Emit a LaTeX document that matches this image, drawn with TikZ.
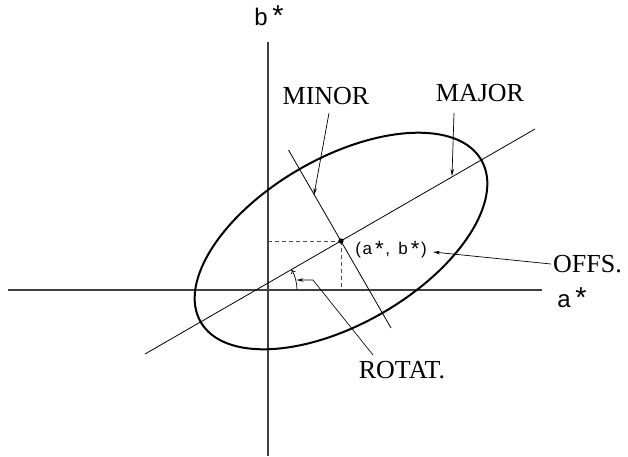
\documentclass[tikz,border=0pt]{standalone}
\usepackage{graphicx}
\usepackage{fontspec}
\setmainfont{Liberation Serif}
\newfontfamily\axfont[LetterSpace=20]{Liberation Sans}
\newcommand{\myast}{\hspace{0.18em}\raisebox{-0.12em}{\scalebox{1.3}{*}}\hspace{0.1em}}
\newcommand{\axast}{\hspace{0.2em}\raisebox{-0.04em}{\scalebox{1.2}{*}}}
\usetikzlibrary{arrows.meta}
\tikzset{
  axis/.style={draw=black!75, line width=1.1pt},
  thin line/.style={draw=black, line width=0.8pt},
  leader/.style={draw=black, line width=0.7pt, -{Stealth[length=7pt,width=3.5pt]}},
  guide/.style={draw=black!70, line width=0.8pt, dash pattern=on 4pt off 3pt},
  serif label/.style={font=\fontsize{26}{28}\selectfont, inner sep=0pt},
  sans label/.style={font=\axfont\fontsize{24}{26}\selectfont, inner sep=0pt},
  small sans/.style={font=\axfont\fontsize{17}{19}\selectfont, inner sep=0pt},
}
\begin{document}
\begin{tikzpicture}[x=1pt,y=-1pt]
\useasboundingbox (0,0) rectangle (628,456);
% coordinates
\coordinate (c) at (341,241);
\coordinate (o) at (256,290);
\coordinate (hL) at (8,290);
\coordinate (hR) at (542,290);
\coordinate (vT) at (268,42);
\coordinate (vB) at (268,456);
\coordinate (majL) at (145,354);
\coordinate (majR) at (535,129);
\coordinate (minT) at (288.5,150);
\coordinate (minB) at (391,328);
\coordinate (dx) at (268,241);
\coordinate (dy) at (341,290);
% axes
\draw[axis] (hL) -- (hR);
\draw[axis] (vT) -- (vB);
% ellipse
\draw[line width=2pt, rotate around={30:(c)}] (c) ellipse [x radius=162, y radius=83];
% major / minor axes
\draw[thin line] (majL) -- (majR);
\draw[thin line] (minT) -- (minB);
% dashed guides
\draw[guide] (dx) -- (c);
\draw[guide] (c) -- (dy);
\fill (c) circle[radius=2.6pt];
% rotation arc
\draw[line width=0.7pt, -{To[length=4pt,width=5pt]}] ([shift={(41,0)}]o) arc[start angle=0, end angle=-30, radius=41];
% labels
\node[sans label, anchor=base] (bstar) at (269,25) {b\axast};
\node[sans label, anchor=base] (astar) at (572,307) {a\axast};
\node[serif label, anchor=base] (minor) at (326,104) {MINOR};
\node[serif label, anchor=base] (major) at (480,101) {MAJOR};
\node[serif label, anchor=base west] (offs) at (553,272) {OFFS.};
\node[serif label, anchor=base] (rotat) at (402,378) {ROTAT.};
\node[small sans, anchor=base] (ab) at (391,254) {(\hspace{0.1em}a\myast, b\myast)};
% leader endpoints
\coordinate (minorS) at (329,113);
\coordinate (minorE) at (314,195);
\coordinate (majorS) at (454,113);
\coordinate (majorE) at (452,176);
\coordinate (offsS) at (551,264);
\coordinate (offsE) at (433,252);
\coordinate (rotS) at (373,355);
\coordinate (rotK) at (313,280);
\coordinate (rotE) at (296.5,280);
\draw[leader] (minorS) -- (minorE);
\draw[leader] (majorS) -- (majorE);
\draw[leader] (offsS) -- (offsE);
\draw[leader] (rotS) -- (rotK) -- (rotE);
\end{tikzpicture}
\end{document}
